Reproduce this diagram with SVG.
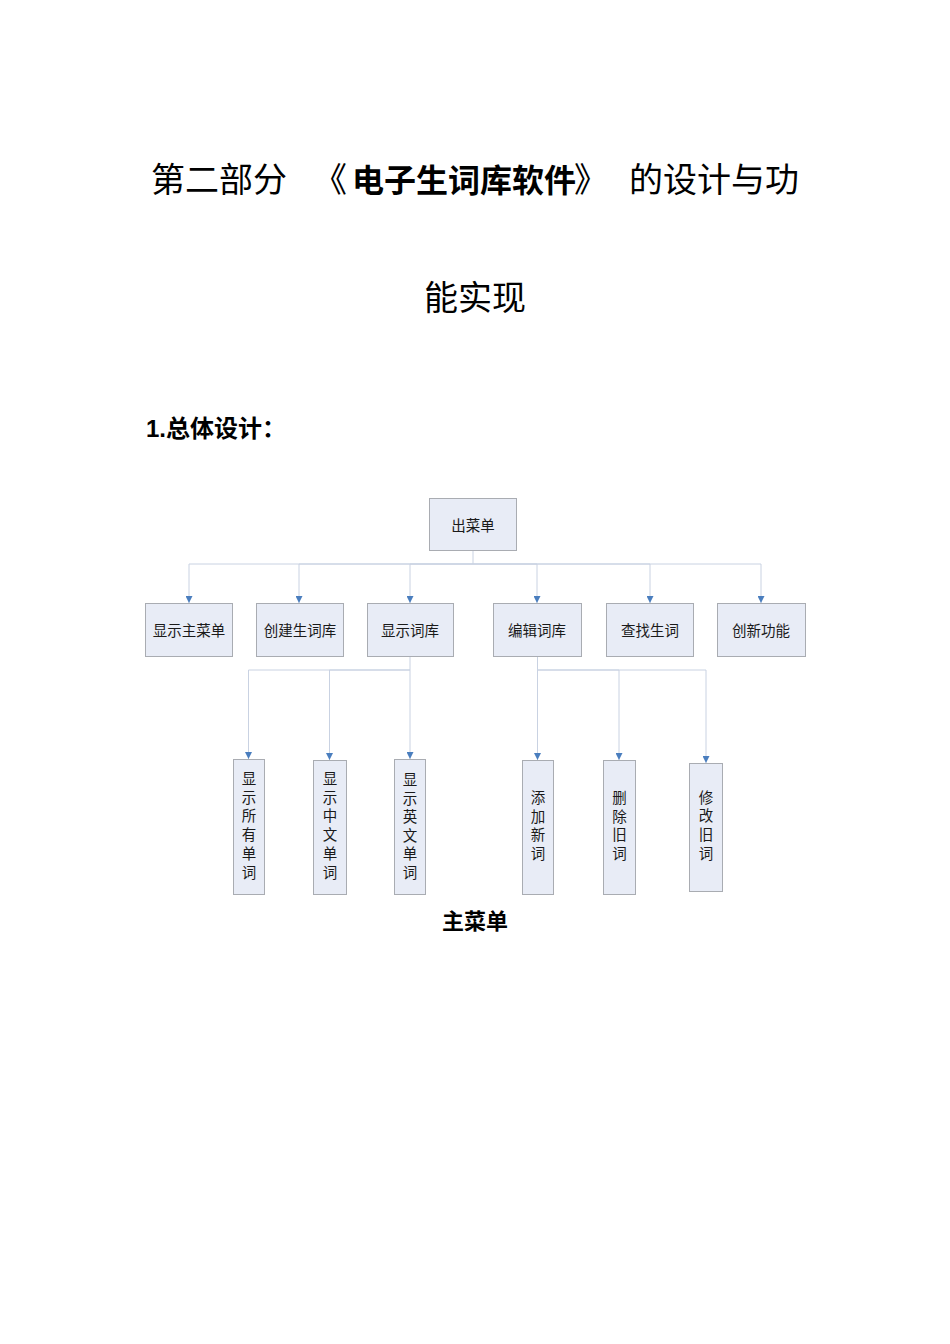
<svg xmlns="http://www.w3.org/2000/svg" width="950" height="1344" viewBox="0 0 950 1344">
<style>
.bg{fill:#ffffff}
.box{fill:#E8ECF6;stroke:#A9ACB2;stroke-width:1}
.lbl{font-family:"Noto Sans CJK SC","Liberation Serif",serif;font-size:14.5px;fill:#1a1a1a;text-anchor:middle}
.conn{fill:none;stroke:#C9D2E2;stroke-width:1}
.t1{font-family:"Noto Sans CJK SC",sans-serif;font-size:34px;fill:#000}
.t1b{font-family:"Noto Sans CJK SC",sans-serif;font-size:32px;font-weight:bold;fill:#000}
.h{font-family:"Liberation Sans","Noto Sans CJK SC",sans-serif;font-size:24px;font-weight:bold;fill:#000}
.cap{font-family:"Noto Sans CJK SC",sans-serif;font-size:22px;font-weight:bold;fill:#000;text-anchor:middle}
</style>
<defs>
<marker id="arr" markerUnits="userSpaceOnUse" markerWidth="8" markerHeight="7" refX="7" refY="3.5" orient="auto">
<path d="M0,0 L7,3.5 L0,7 Z" fill="#4A7EBE"/>
</marker>
</defs>
<rect class="bg" x="0" y="0" width="950" height="1344"/>

<g id="title">
<text y="192"><tspan class="t1" x="151">第二部分</tspan><tspan class="t1" x="313">《</tspan><tspan class="t1b" x="352">电子生词库软件</tspan><tspan class="t1" x="574">》</tspan><tspan class="t1" x="629">的设计与功</tspan></text>
<text class="t1" x="475" y="310" text-anchor="middle">能实现</text>
</g>
<g id="heading">
<text class="h" x="146" y="437">1.总体设计：</text>
</g>

<g id="connectors">
<path class="conn" d="M473,551 V564 H189 V603" marker-end="url(#arr)"/>
<path class="conn" d="M473,564 H299 V603" marker-end="url(#arr)"/>
<path class="conn" d="M473,564 H410 V603" marker-end="url(#arr)"/>
<path class="conn" d="M473,564 H537 V603" marker-end="url(#arr)"/>
<path class="conn" d="M473,564 H650 V603" marker-end="url(#arr)"/>
<path class="conn" d="M473,564 H761 V603" marker-end="url(#arr)"/>
<path class="conn" d="M410,657 V670 H248.5 V759" marker-end="url(#arr)"/>
<path class="conn" d="M410,670 H329.5 V760" marker-end="url(#arr)"/>
<path class="conn" d="M410,670 V759" marker-end="url(#arr)"/>
<path class="conn" d="M537.5,657 V760" marker-end="url(#arr)"/>
<path class="conn" d="M537.5,670 H619 V760" marker-end="url(#arr)"/>
<path class="conn" d="M537.5,670 H706 V763" marker-end="url(#arr)"/>
</g>

<g id="n-root"><rect class="box" x="429.5" y="498.5" width="87" height="52"/><text class="lbl" x="473" y="530.5">出菜单</text></g>

<g id="n-show-main"><rect class="box" x="145.5" y="603.5" width="87" height="53"/><text class="lbl" x="189" y="635.5">显示主菜单</text></g>
<g id="n-create"><rect class="box" x="256.5" y="603.5" width="87" height="53"/><text class="lbl" x="300" y="635.5">创建生词库</text></g>
<g id="n-show-lib"><rect class="box" x="367.5" y="603.5" width="86" height="53"/><text class="lbl" x="410" y="635.5">显示词库</text></g>
<g id="n-edit"><rect class="box" x="493.5" y="603.5" width="88" height="53"/><text class="lbl" x="537" y="635.5">编辑词库</text></g>
<g id="n-find"><rect class="box" x="606.5" y="603.5" width="87" height="53"/><text class="lbl" x="650" y="635.5">查找生词</text></g>
<g id="n-new"><rect class="box" x="717.5" y="603.5" width="88" height="53"/><text class="lbl" x="761" y="635.5">创新功能</text></g>

<g id="n-all"><rect class="box" x="233.5" y="759.5" width="31" height="135"/>
<text class="lbl"><tspan x="249" y="784">显</tspan><tspan x="249" y="802.7">示</tspan><tspan x="249" y="821.4">所</tspan><tspan x="249" y="840.1">有</tspan><tspan x="249" y="858.8">单</tspan><tspan x="249" y="877.5">词</tspan></text></g>
<g id="n-cn"><rect class="box" x="313.5" y="760.5" width="33" height="134"/>
<text class="lbl"><tspan x="330" y="784">显</tspan><tspan x="330" y="802.7">示</tspan><tspan x="330" y="821.4">中</tspan><tspan x="330" y="840.1">文</tspan><tspan x="330" y="858.8">单</tspan><tspan x="330" y="877.5">词</tspan></text></g>
<g id="n-en"><rect class="box" x="394.5" y="759.5" width="31" height="135"/>
<text class="lbl"><tspan x="410" y="785">显</tspan><tspan x="410" y="803.5">示</tspan><tspan x="410" y="822">英</tspan><tspan x="410" y="840.5">文</tspan><tspan x="410" y="859">单</tspan><tspan x="410" y="877.5">词</tspan></text></g>
<g id="n-add"><rect class="box" x="522.5" y="760.5" width="31" height="134"/>
<text class="lbl"><tspan x="538" y="803">添</tspan><tspan x="538" y="821.7">加</tspan><tspan x="538" y="840.4">新</tspan><tspan x="538" y="859.1">词</tspan></text></g>
<g id="n-del"><rect class="box" x="603.5" y="760.5" width="32" height="134"/>
<text class="lbl"><tspan x="619.5" y="803">删</tspan><tspan x="619.5" y="821.7">除</tspan><tspan x="619.5" y="840.4">旧</tspan><tspan x="619.5" y="859.1">词</tspan></text></g>
<g id="n-mod"><rect class="box" x="689.5" y="763.5" width="33" height="128"/>
<text class="lbl"><tspan x="706" y="802.5">修</tspan><tspan x="706" y="821.2">改</tspan><tspan x="706" y="839.9">旧</tspan><tspan x="706" y="858.6">词</tspan></text></g>

<g id="caption">
<text class="cap" x="475" y="929">主菜单</text>
</g>
</svg>
